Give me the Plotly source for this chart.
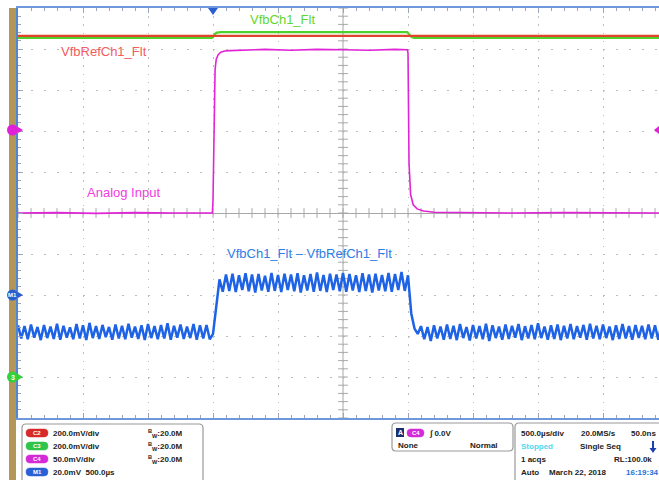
import numpy as np
import plotly.graph_objects as go

# ---------------- data (time in µs, amplitude in screen divisions) ----------------
T_START = -1500.0          # left edge of screen (trigger at 0)
US_PER_DIV = 500.0
BLUE_DT = 25.0             # sample spacing of the math trace

red_t = [-1500, 3500]
red_v = [4.32, 4.32]

green_t = [-1500, -10, 0, 15, 30, 60, 1495, 1505, 1520, 1545, 3500]
green_v = [4.27, 4.27, 4.29, 4.37, 4.40, 4.41, 4.41, 4.38, 4.31, 4.27, 4.27]

mag_t = [-1500, -1200, -900, -600, -300, -5, 0, 8, 16, 25, 40, 60, 90, 130, 200,
         400, 600, 800, 1000, 1200, 1400, 1495, 1500, 1508, 1520, 1540, 1570,
         1620, 1700, 1900, 2300, 2700, 3100, 3500]
mag_v = [0.0, 0.01, -0.01, 0.01, 0.0, 0.0, 0.3, 2.3, 3.5, 3.75, 3.86, 3.92, 3.95,
         3.96, 3.97, 3.99, 3.97, 3.99, 3.98, 3.97, 3.99, 3.98, 3.9, 1.2, 0.45,
         0.2, 0.1, 0.05, 0.02, 0.01, 0.0, 0.01, 0.0, 0.0]

blue_v = [
    -2.74, -3.06, -2.76, -3.08, -2.72, -3.04, -2.78, -3.10, -2.73, -3.05,
    -2.77, -3.07, -2.70, -3.09, -2.75, -3.04, -2.79, -3.08, -2.71, -3.06,
    -2.74, -3.10, -2.68, -3.05, -2.76, -3.07, -2.73, -3.03, -2.78, -3.09,
    -2.72, -3.06, -2.75, -3.08, -2.70, -3.04, -2.77, -3.07, -2.74, -3.10,
    -2.71, -3.05, -2.76, -3.08, -2.73, -3.06, -2.69, -3.09, -2.75, -3.04,
    -2.72, -3.07, -2.77, -3.05, -2.71, -3.09, -2.74, -3.06, -2.73, -3.08,
    -2.95, -2.35, -1.62,
    -1.92, -1.50, -1.90, -1.48, -1.93, -1.52, -1.88, -1.47, -1.91, -1.50,
    -1.94, -1.49, -1.89, -1.53, -1.92, -1.46, -1.90, -1.51, -1.93, -1.48,
    -1.88, -1.50, -1.91, -1.47, -1.94, -1.52, -1.89, -1.49, -1.92, -1.45,
    -1.90, -1.51, -1.93, -1.48, -1.88, -1.50, -1.91, -1.46, -1.92, -1.49,
    -1.89, -1.52, -1.93, -1.47, -1.90, -1.50, -1.94, -1.48, -1.89, -1.51,
    -1.91, -1.46, -1.92, -1.49, -1.88, -1.44, -1.90,
    -1.52,
    -2.45, -2.82, -2.95, -2.76, -3.08, -2.78, -3.12, -2.74, -3.06, -2.77,
    -3.09, -2.72, -3.07, -2.75, -3.10, -2.71, -3.05, -2.78, -3.11, -2.73,
    -3.06, -2.76, -3.08, -2.70, -3.12, -2.74, -3.05, -2.77, -3.09, -2.72,
    -3.07, -2.75, -3.04, -2.71, -3.10, -2.76, -3.06, -2.73, -3.08, -2.69,
    -3.05, -2.77, -3.09, -2.74, -3.07, -2.72, -3.10, -2.75, -3.06, -2.71,
    -3.08, -2.76, -3.04, -2.73, -3.09, -2.70, -3.06, -2.75, -3.08, -2.72,
    -3.05, -2.77, -3.10, -2.74, -3.07, -2.71, -3.06, -2.76, -3.09, -2.73,
    -3.05, -2.75, -3.08, -2.72, -3.06, -2.74, -3.09, -2.71, -3.07, -2.75,
]
blue_t = T_START + BLUE_DT * np.arange(len(blue_v))

trace_labels = ["VfbCh1_Flt", "VfbRefCh1_Flt", "Analog Input",
                "VfbCh1_Flt \u2013 VfbRefCh1_Flt"]

# ---------------- layout geometry (pixels) ----------------
W, H = 659, 480
PL, PT, PB, PR = 18, 8, 418, 659
X_END = T_START + (PR - PL) / 65.0 * US_PER_DIV
CENTER_T = T_START + 5 * US_PER_DIV


def px(x):
    return (x - PL) / (PR - PL)


def py(y):
    return (PB - y) / (PB - PT)


def P(x, y):
    return f"{px(x):.5f},{py(y):.5f}"


def rrect(x0, y0, x1, y1, r, fill, line, lw=1.2):
    path = (f"M {P(x0 + r, y0)} L {P(x1 - r, y0)} Q {P(x1, y0)} {P(x1, y0 + r)} "
            f"L {P(x1, y1 - r)} Q {P(x1, y1)} {P(x1 - r, y1)} L {P(x0 + r, y1)} "
            f"Q {P(x0, y1)} {P(x0, y1 - r)} L {P(x0, y0 + r)} Q {P(x0, y0)} {P(x0 + r, y0)} Z")
    return dict(type="path", path=path, xref="paper", yref="paper",
                fillcolor=fill, line=dict(color=line, width=lw), layer="above")


FONT = "Liberation Sans, Arial, sans-serif"
fig = go.Figure()

# centre cross tick marks
fig.add_trace(go.Scatter(x=[CENTER_T] * 51, y=np.round(np.arange(-5, 5.01, 0.2), 2),
                         mode="markers", hoverinfo="skip", showlegend=False,
                         marker=dict(symbol="line-ew", size=7, line=dict(color="#a8a8a8", width=1))))
fig.add_trace(go.Scatter(x=np.arange(-1500, 3450, 100), y=[0] * 50,
                         mode="markers", hoverinfo="skip", showlegend=False,
                         marker=dict(symbol="line-ns", size=7, line=dict(color="#a8a8a8", width=1))))

fig.add_trace(go.Scatter(x=green_t, y=green_v, mode="lines", showlegend=False,
                         line=dict(color="#4fd12c", width=2.2)))
fig.add_trace(go.Scatter(x=red_t, y=red_v, mode="lines", showlegend=False,
                         line=dict(color="#e0452c", width=2.2)))
fig.add_trace(go.Scatter(x=mag_t, y=mag_v, mode="lines", showlegend=False,
                         line=dict(color="#e025d6", width=1.6)))
fig.add_trace(go.Scatter(x=blue_t, y=blue_v, mode="lines", showlegend=False,
                         line=dict(color="#1e63e6", width=2.5)))

shapes = []
# centre vertical line
shapes.append(dict(type="line", xref="x", yref="paper", x0=CENTER_T, x1=CENTER_T,
                   y0=0, y1=1, line=dict(color="#a8a8a8", width=1), layer="below"))
# left brown bezel
shapes.append(dict(type="rect", xref="paper", yref="paper", x0=px(9), x1=px(16),
                   y0=py(480), y1=py(8), fillcolor="#b4955a", line=dict(width=0)))
# trigger position marker
shapes.append(dict(type="path", xref="paper", yref="paper",
                   path=f"M {P(208, 8)} L {P(218, 8)} L {P(213, 15)} Z",
                   fillcolor="#2a5fd0", line=dict(width=0)))
# channel markers on left
for (cy, col) in [(130, "#e020d8"), (295, "#2a5fd0"), (377, "#33d13a")]:
    shapes.append(dict(type="circle", xref="paper", yref="paper",
                       x0=px(7), x1=px(18), y0=py(cy + 5.5), y1=py(cy - 5.5),
                       fillcolor=col, line=dict(width=0)))
    shapes.append(dict(type="path", xref="paper", yref="paper",
                       path=f"M {P(18, cy - 3)} L {P(23, cy)} L {P(18, cy + 3)} Z",
                       fillcolor=col, line=dict(width=0)))
# right marker
shapes.append(dict(type="path", xref="paper", yref="paper",
                   path=f"M {P(654, 130)} L {P(659, 126)} L {P(659, 134)} Z",
                   fillcolor="#e020d8", line=dict(width=0)))

# status boxes
shapes.append(rrect(22, 424, 203, 486, 4, "white", "#9a9a9a"))
shapes.append(rrect(392, 423, 513, 451, 4, "white", "#9a9a9a"))
shapes.append(rrect(515, 423, 668, 486, 4, "white", "#9a9a9a"))

# badges
badges = [(433, "#d72a2a", "C2"), (446, "#2fc44a", "C3"), (459, "#d42ad8", "C4"),
          (472, "#2a62d6", "M1")]
for (cy, col, _) in badges:
    shapes.append(rrect(26, cy - 4, 48, cy + 4, 4, col, col, 0.5))
shapes.append(rrect(407, 429, 424, 437, 4, "#d42ad8", "#d42ad8", 0.5))
shapes.append(dict(type="rect", xref="paper", yref="paper", x0=px(396), x1=px(404),
                   y0=py(437), y1=py(428), fillcolor="#1b2f6e", line=dict(width=0)))
# stopped-state arrow
shapes.append(dict(type="line", xref="paper", yref="paper", x0=px(653), x1=px(653),
                   y0=py(441), y1=py(449), line=dict(color="#1a3fb0", width=2)))
shapes.append(dict(type="path", xref="paper", yref="paper",
                   path=f"M {P(649.5, 448)} L {P(656.5, 448)} L {P(653, 453)} Z",
                   fillcolor="#1a3fb0", line=dict(width=0)))

ann = []


def text(x, y, s, color="#222", size=8, anchor="left", bold=True, family=FONT):
    ann.append(dict(x=px(x), y=py(y), xref="paper", yref="paper", text=s,
                    showarrow=False, xanchor=anchor, yanchor="middle",
                    font=dict(family=family, size=size, color=color,
                              weight="bold" if bold else "normal")))


# trace labels
text(282, 19, trace_labels[0], "#5fd82a", 13, "center", False)
text(104, 52, trace_labels[1], "#f25c5c", 13, "center", False)
text(123, 193, trace_labels[2], "#f03ce0", 13, "center", False)
text(309, 253, trace_labels[3], "#2f7de6", 13, "center", False)

# marker glyphs
text(12.5, 295, "M1", "white", 6, "center")
text(12.5, 377, "3", "white", 7, "center")

# left status box
rows = [("200.0mV/div", "<sup>B</sup><sub>W</sub>:20.0M"),
        ("200.0mV/div", "<sup>B</sup><sub>W</sub>:20.0M"),
        ("50.0mV/div", "<sup>B</sup><sub>W</sub>:20.0M"),
        ("20.0mV  500.0\u00b5s", "")]
for (cy, col, lab), (a, b) in zip(badges, rows):
    text(37, cy, lab, "white", 6, "center")
    text(51, cy, a)
    if b:
        text(146, cy, b)

# trigger box
text(400, 432.5, "A", "white", 7, "center")
text(415.5, 433, "C4", "white", 6, "center")
text(427, 433, "\u222b 0.0V")
text(396, 445, "None")
text(500, 445, "Normal", anchor="right")

# acquisition box
text(519, 433, "500.0\u00b5s/div")
text(579, 433, "20.0MS/s")
text(629, 433, "50.0ns")
text(519, 446, "Stopped", "#4fd8f0")
text(578, 446, "Single Seq")
text(519, 459, "1 acqs")
text(612, 459, "RL:100.0k")
text(519, 472, "Auto")
text(547, 472, "March 22, 2018")
text(624, 472, "16:19:34", "#2a6fe0")

fig.update_layout(
    width=W, height=H,
    margin=dict(l=PL, r=W - PR, t=PT, b=H - PB),
    paper_bgcolor="white", plot_bgcolor="white",
    showlegend=False, shapes=shapes, annotations=ann,
    xaxis=dict(range=[T_START, X_END], tick0=T_START, dtick=US_PER_DIV,
               showgrid=True, gridcolor="#bdbdbd", griddash="1.5px,6.7px", gridwidth=1,
               zeroline=False, showticklabels=False,
               ticks="inside", ticklen=5, tickcolor="#9aa6b8",
               showline=True, linecolor="#6f98dc", linewidth=1.5, mirror="ticks",
               minor=dict(dtick=100, tick0=T_START, ticks="inside", ticklen=3,
                          tickcolor="#9aa6b8", showgrid=False)),
    yaxis=dict(range=[-5, 5], tick0=0, dtick=1,
               showgrid=True, gridcolor="#bdbdbd", griddash="1.5px,11.5px", gridwidth=1,
               zeroline=True, zerolinecolor="#a8a8a8", zerolinewidth=1,
               showticklabels=False,
               ticks="inside", ticklen=5, tickcolor="#9aa6b8",
               showline=True, linecolor="#4f86d8", linewidth=2, mirror=False,
               minor=dict(dtick=0.2, ticks="inside", ticklen=3,
                          tickcolor="#9aa6b8", showgrid=False)),
)

fig.write_html("out.html", config={"displayModeBar": False},
               post_script="document.body.style.margin='0';document.body.style.overflow='hidden';")
